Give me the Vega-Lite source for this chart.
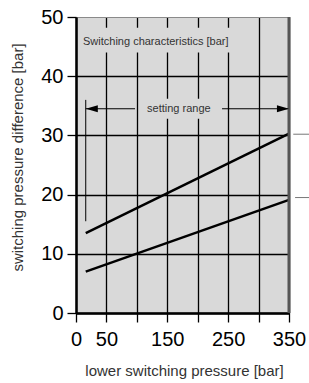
{
  "$schema": "https://vega.github.io/schema/vega-lite/v6.json",
  "width": 213,
  "height": 296,
  "autosize": {"type": "none"},
  "padding": {"left": 76, "top": 17, "right": 20, "bottom": 70},
  "background": "white",
  "config": {
    "view": {"fill": "#d9d9d9", "stroke": null},
    "font": "Liberation Sans"
  },
  "encoding": {
    "x": {
      "field": "p", "type": "quantitative",
      "scale": {"domain": [0, 350], "nice": false, "zero": false},
      "axis": {
        "values": [0, 50, 100, 150, 200, 250, 300, 350],
        "labelExpr": "(datum.value == 100 || datum.value == 200 || datum.value == 300) ? '' : datum.label",
        "grid": true, "gridColor": "black", "gridWidth": 1.3, "gridOpacity": 1,
        "domainColor": "black", "domainWidth": 2.5,
        "tickColor": "black", "tickWidth": 1.3, "tickSize": 9,
        "labelPadding": 7, "labelFontSize": 20, "labelFont": "Liberation Sans", "labelColor": "black",
        "labelFlush": false, "labelOverlap": false,
        "title": "lower switching pressure [bar]",
        "titleFont": "Liberation Sans", "titleFontSize": 15, "titleFontWeight": "normal", "titleColor": "#333",
        "titleX": 108, "titleY": 57, "titleBaseline": "middle", "titleAnchor": "middle"
      }
    },
    "y": {
      "field": "d", "type": "quantitative",
      "scale": {"domain": [0, 50], "nice": false, "zero": false},
      "axis": {
        "values": [0, 10, 20, 30, 40, 50],
        "grid": true,
        "gridColor": {"condition": {"test": "datum.value == 50", "value": "#8a8a8a"}, "value": "black"},
        "gridWidth": {"condition": {"test": "datum.value == 50", "value": 1}, "value": 1.3},
        "gridOpacity": 1,
        "domainColor": "black", "domainWidth": 2.5,
        "tickColor": "black", "tickWidth": 1.3, "tickSize": 9,
        "labelPadding": 4, "labelFontSize": 20, "labelFont": "Liberation Sans", "labelColor": "black",
        "labelFlush": false, "labelOverlap": false,
        "title": "switching pressure difference [bar]",
        "titleFont": "Liberation Sans", "titleFontSize": 15, "titleFontWeight": "normal", "titleColor": "#333",
        "titleAngle": -90, "titleX": -59, "titleY": 140, "titleBaseline": "middle", "titleAnchor": "middle"
      }
    }
  },
  "layer": [
    {
      "data": {"values": [
        {"p": 6, "p2": 272, "d": 44.0, "d2": 48.2},
        {"p": 105, "p2": 240, "d": 32.8, "d2": 36.2}
      ]},
      "mark": {"type": "rect", "fill": "#d9d9d9", "stroke": null},
      "encoding": {"x2": {"field": "p2"}, "y2": {"field": "d2"}}
    },
    {
      "data": {"values": [
        {"series": "upper", "p": 16, "d": 13.5},
        {"series": "upper", "p": 350, "d": 30.3},
        {"series": "lower", "p": 16, "d": 7.0},
        {"series": "lower", "p": 350, "d": 19.1}
      ]},
      "mark": {"type": "line", "color": "black", "strokeWidth": 2.5},
      "encoding": {"detail": {"field": "series"}}
    },
    {
      "data": {"values": [
        {"p": 16, "p2": 97, "d": 34.5, "d2": 34.5},
        {"p": 240, "p2": 350, "d": 34.5, "d2": 34.5},
        {"p": 16, "p2": 16, "d": 15.5, "d2": 36.0}
      ]},
      "mark": {"type": "rule", "color": "black", "strokeWidth": 1},
      "encoding": {"x2": {"field": "p2"}, "y2": {"field": "d2"}}
    },
    {
      "data": {"values": [
        {"p": 350, "p2": 350, "d": 0, "d2": 50}
      ]},
      "mark": {"type": "rule", "color": "#555", "strokeWidth": 3},
      "encoding": {"x2": {"field": "p2"}, "y2": {"field": "d2"}}
    },
    {
      "data": {"values": [
        {"p": 357, "p2": 383, "d": 30.2, "d2": 30.2},
        {"p": 360, "p2": 383, "d": 19.5, "d2": 19.5}
      ]},
      "mark": {"type": "rule", "color": "#777", "strokeWidth": 1},
      "encoding": {"x2": {"field": "p2"}, "y2": {"field": "d2"}}
    },
    {
      "data": {"values": [
        {"p": 26, "d": 34.5, "dir": "left"},
        {"p": 340, "d": 34.5, "dir": "right"}
      ]},
      "mark": {"type": "point", "filled": true, "color": "black", "opacity": 1, "size": 144},
      "encoding": {
        "shape": {"field": "dir", "type": "nominal", "legend": null,
          "scale": {"domain": ["left", "right"], "range": ["M-1,0L1,-0.6L1,0.6Z", "M1,0L-1,-0.6L-1,0.6Z"]}}
      }
    },
    {
      "data": {"values": [
        {"p": 11.5, "d": 45.8, "label": "Switching characteristics [bar]"}
      ]},
      "mark": {"type": "text", "align": "left", "baseline": "middle", "font": "Liberation Sans", "fontSize": 11, "color": "#333"},
      "encoding": {"text": {"field": "label"}}
    },
    {
      "data": {"values": [
        {"p": 169, "d": 34.5, "label": "setting range"}
      ]},
      "mark": {"type": "text", "align": "center", "baseline": "middle", "font": "Liberation Sans", "fontSize": 11, "color": "#333"},
      "encoding": {"text": {"field": "label"}}
    }
  ]
}
